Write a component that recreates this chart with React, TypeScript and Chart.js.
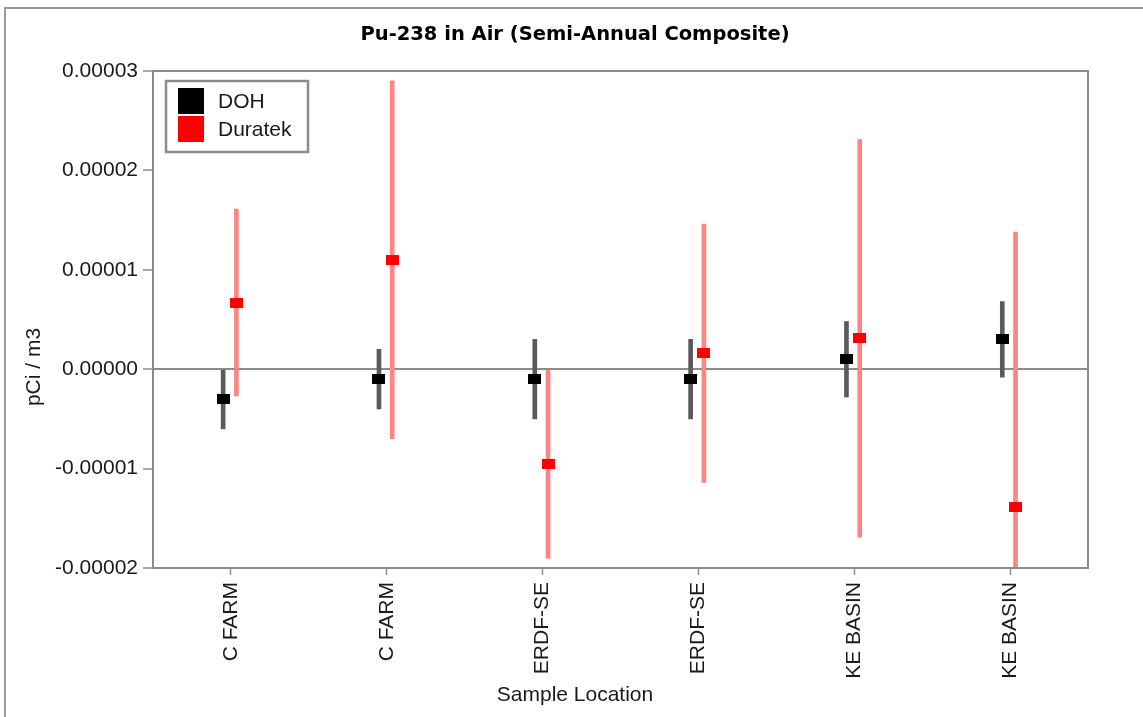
import React, { useEffect, useRef } from "react";
import { Chart, registerables } from "chart.js";

Chart.register(...registerables);

// ---- data ----
const categories = ["C FARM", "C FARM", "ERDF-SE", "ERDF-SE", "KE BASIN", "KE BASIN"];
const seriesNames = ["DOH", "Duratek"];
const dohValues = [-0.000003, -0.000001, -0.000001, -0.000001, 0.000001, 0.000003];
const dohErrors = [0.000003, 0.000003, 0.000004, 0.000004, 0.0000038, 0.0000038];
const duratekValues = [0.0000067, 0.000011, -0.0000095, 0.0000016, 0.0000031, -0.0000139];
const duratekErrors = [0.0000094, 0.000018, 0.0000095, 0.000013, 0.00002, 0.0000277];
const yTickValues = [-0.00002, -0.00001, 0, 0.00001, 0.00002, 0.00003];
const yTickLabels = ["-0.00002", "-0.00001", "0.00000", "0.00001", "0.00002", "0.00003"];
const chartTitle = "Pu-238 in Air (Semi-Annual Composite)";
const xTitle = "Sample Location";
const yTitle = "pCi / m3";

// ---- styles ----
const FONT = "'Liberation Sans', Arial, sans-serif";
const DOH_OFFSET = -0.05;
const DUR_OFFSET = 0.035;
const DOH_COLOR = "#000000";
const DOH_BAR = "#5a5a5a";
const DUR_COLOR = "#ff0000";
const DUR_BAR = "#ff8484";
const GRAY = "#8c8c8c";

const decor = {
  id: "decor",
  beforeDraw(chart: any) {
    const ctx = chart.ctx;
    ctx.save();
    ctx.strokeStyle = "#9a9a9a";
    ctx.lineWidth = 2;
    ctx.strokeRect(5, 8, 1400, 1000);
    ctx.restore();
  },
  afterDatasetsDraw(chart: any) {
    const { ctx, chartArea: a } = chart;
    ctx.save();
    ctx.strokeStyle = GRAY;
    ctx.lineWidth = 2;
    ctx.strokeRect(a.left, a.top, a.right - a.left, a.bottom - a.top);
    ctx.restore();
  },
  afterDraw(chart: any) {
    const ctx = chart.ctx;
    ctx.save();
    // legend
    ctx.fillStyle = "#ffffff";
    ctx.fillRect(166, 81, 142, 71);
    ctx.strokeStyle = GRAY;
    ctx.lineWidth = 2.5;
    ctx.strokeRect(166, 81, 142, 71);
    const sw = [DOH_COLOR, DUR_COLOR];
    ctx.font = `21px ${FONT}`;
    ctx.textBaseline = "middle";
    ctx.textAlign = "left";
    seriesNames.forEach((n, i) => {
      const y = 88 + i * 28;
      ctx.fillStyle = sw[i];
      ctx.fillRect(178, y, 26, 26);
      ctx.fillStyle = "#1a1a1a";
      ctx.fillText(n, 218, y + 14);
    });
    // axis titles
    ctx.fillStyle = "#1a1a1a";
    ctx.textAlign = "center";
    ctx.fillText(xTitle, 575, 695);
    ctx.translate(34, 367);
    ctx.rotate(-Math.PI / 2);
    ctx.fillText(yTitle, 0, 0);
    ctx.restore();
  },
};

export default function App() {
  const ref = useRef<HTMLCanvasElement>(null);
  useEffect(() => {
    const canvas = ref.current!;
    const mk = (color: string) => {
      const c = document.createElement("canvas");
      c.width = 13;
      c.height = 10;
      const g = c.getContext("2d")!;
      g.fillStyle = color;
      g.fillRect(0, 0, 13, 10);
      return c;
    };
    const dohPt = mk(DOH_COLOR);
    const durPt = mk(DUR_COLOR);

    const chart = new Chart(canvas, {
      type: "bar",
      data: {
        datasets: [
          {
            type: "scatter",
            label: seriesNames[0],
            data: dohValues.map((v, i) => ({ x: i + DOH_OFFSET, y: v })),
            pointStyle: dohPt as any,
            pointRadius: 5,
            order: 1,
          } as any,
          {
            type: "scatter",
            label: seriesNames[1],
            data: duratekValues.map((v, i) => ({ x: i + DUR_OFFSET, y: v })),
            pointStyle: durPt as any,
            pointRadius: 5,
            order: 1,
          } as any,
          {
            type: "bar",
            label: seriesNames[0] + " error",
            data: dohValues.map((v, i) => ({ x: i + DOH_OFFSET, y: [v - dohErrors[i], v + dohErrors[i]] })),
            backgroundColor: DOH_BAR,
            borderWidth: 0,
            barThickness: 4,
            grouped: false,
            order: 3,
          } as any,
          {
            type: "bar",
            label: seriesNames[1] + " error",
            data: duratekValues.map((v, i) => ({ x: i + DUR_OFFSET, y: [v - duratekErrors[i], v + duratekErrors[i]] })),
            backgroundColor: DUR_BAR,
            borderWidth: 0,
            barThickness: 4,
            grouped: false,
            order: 2,
          } as any,
        ],
      },
      options: {
        responsive: false,
        animation: false,
        events: [],
        font: { family: FONT, size: 21 },
        layout: { padding: { left: 7, right: 0, top: 0, bottom: 0 } },
        plugins: {
          legend: { display: false },
          tooltip: { enabled: false },
          title: {
            display: true,
            text: chartTitle,
            color: "#000",
            font: { family: "'DejaVu Sans', sans-serif", size: 19.5, weight: "bold" },
            padding: { top: 23, bottom: 24.6 },
          },
        },
        scales: {
          x: {
            type: "linear",
            min: -0.5,
            max: 5.5,
            offset: false,
            afterBuildTicks: (s: any) => {
              s.ticks = categories.map((_, i) => ({ value: i }));
            },
            afterFit: (s: any) => {
              s.height = 149;
            },
            ticks: {
              autoSkip: false,
              minRotation: 90,
              maxRotation: 90,
              padding: 7,
              color: "#1a1a1a",
              font: { family: FONT, size: 21 },
              callback: (v: any) => categories[Math.round(Number(v))],
            },
            grid: { drawOnChartArea: false, drawTicks: true, tickLength: 7, tickColor: GRAY, tickWidth: 1.5, offset: false },
            border: { display: false },
          },
          y: {
            type: "linear",
            position: "left",
            min: -0.00002,
            max: 0.00003,
            afterBuildTicks: (s: any) => {
              s.ticks = yTickValues.map((v) => ({ value: v }));
            },
            afterFit: (s: any) => {
              s.width = 146;
            },
            ticks: {
              padding: 5,
              color: "#1a1a1a",
              font: { family: FONT, size: 21 },
              callback: (_v: any, i: number) => yTickLabels[i],
            },
            grid: {
              drawOnChartArea: true,
              drawTicks: true,
              tickLength: 10,
              tickColor: GRAY,
              tickWidth: 1.5,
              lineWidth: 2,
              color: (c: any) => (c.tick && Math.abs(c.tick.value) < 1e-12 ? GRAY : "rgba(0,0,0,0)"),
            },
            border: { display: false },
          },
          yR: {
            type: "linear",
            position: "right",
            display: true,
            ticks: { display: false },
            grid: { display: false },
            border: { display: false },
            afterFit: (s: any) => {
              s.width = 55;
            },
          },
        },
      } as any,
      plugins: [decor],
    });
    return () => chart.destroy();
  }, []);

  return (
    <div style={{ position: "absolute", left: 0, top: 0, width: 1143, height: 717, background: "#fff" }}>
      <canvas ref={ref} width={1143} height={717} style={{ display: "block" }} />
    </div>
  );
}
